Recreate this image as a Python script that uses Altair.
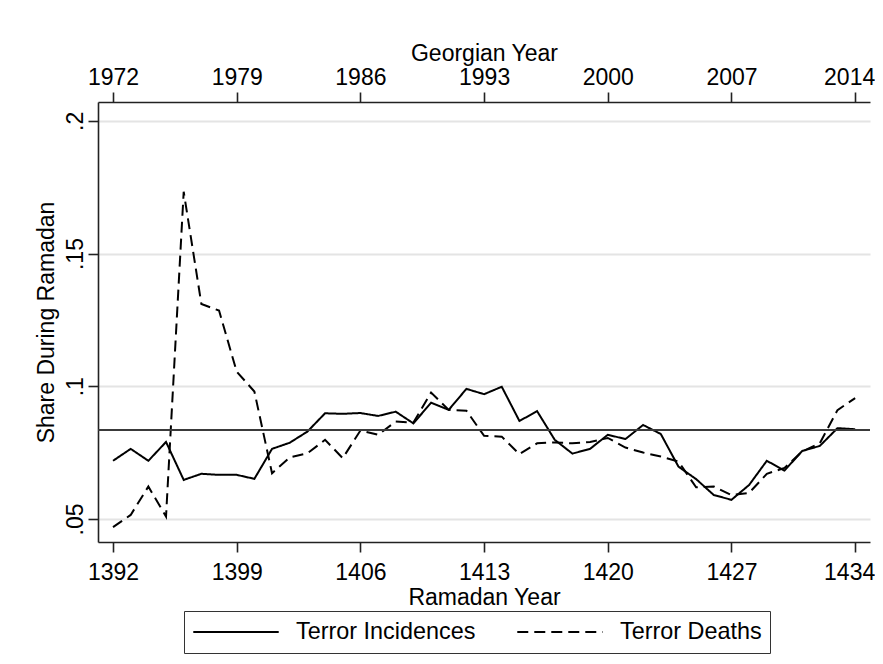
import altair as alt
import pandas as pd

# ---- data ----
years = [1392, 1393, 1394, 1395, 1396, 1397, 1398, 1399, 1400, 1401,
         1402, 1403, 1404, 1405, 1406, 1407, 1408, 1409, 1410, 1411,
         1412, 1413, 1414, 1415, 1416, 1417, 1418, 1419, 1420, 1421,
         1422, 1423, 1424, 1425, 1426, 1427, 1428, 1429, 1430, 1431,
         1432, 1433, 1434]

incidences = [0.0719, 0.0764, 0.0719, 0.0790, 0.0647, 0.0670, 0.0666, 0.0666, 0.0651, 0.0764,
              0.0787, 0.0829, 0.0898, 0.0896, 0.0899, 0.0888, 0.0904, 0.0860, 0.0938, 0.0911,
              0.0990, 0.0970, 0.0998, 0.0869, 0.0906, 0.0798, 0.0746, 0.0764, 0.0817, 0.0801,
              0.0854, 0.0820, 0.0697, 0.0650, 0.0590, 0.0572, 0.0628, 0.0719, 0.0682, 0.0756,
              0.0775, 0.0842, 0.0838]

deaths = [0.0469, 0.0515, 0.0622, 0.0509, 0.1733, 0.1310, 0.1285, 0.1055, 0.0980, 0.0672,
          0.0732, 0.0747, 0.0798, 0.0729, 0.0833, 0.0817, 0.0867, 0.0863, 0.0976, 0.0911,
          0.0908, 0.0813, 0.0810, 0.0744, 0.0785, 0.0788, 0.0785, 0.0790, 0.0805, 0.0769,
          0.0750, 0.0735, 0.0716, 0.0619, 0.0622, 0.0590, 0.0598, 0.0670, 0.0692, 0.0754,
          0.0785, 0.0910, 0.0955]

series_names = ["Terror Incidences", "Terror Deaths"]
ramadan_ticks = [1392, 1399, 1406, 1413, 1420, 1427, 1434]
georgian_labels = ["1972", "1979", "1986", "1993", "2000", "2007", "2014"]
y_ticks = [0.05, 0.10, 0.15, 0.20]
y_tick_labels = [".05", ".1", ".15", ".2"]
mean_share = 0.0835

# ---- tables ----
df = pd.DataFrame({
    "year": years * 2,
    "share": incidences + deaths,
    "series": [series_names[0]] * len(years) + [series_names[1]] * len(years),
})
rule_df = pd.DataFrame({"share": [mean_share]})


def label_expr(values, labels):
    expr = "''"
    for v, l in reversed(list(zip(values, labels))):
        expr = f"abs(datum.value - {v}) < 0.001 ? '{l}' : ({expr})"
    return expr


FONT = "Liberation Sans"
FS = 23

xscale = alt.Scale(domain=[1391.15, 1434.84], nice=False, zero=False)
yscale = alt.Scale(domain=[0.0413, 0.2071], nice=False, zero=False)

# keep the last tick label inside the page
last_label_offset = {"condition": {"test": f"datum.value == {ramadan_ticks[-1]}", "value": -6},
                     "value": 0}

y_axis = alt.Axis(values=y_ticks, labelExpr=label_expr(y_ticks, y_tick_labels),
                  title="Share During Ramadan", grid=True,
                  gridColor="#e4e4e4", gridWidth=2,
                  labelAngle=270, labelAlign="center", labelBaseline="alphabetic",
                  labelPadding=6, titlePadding=6)

lines = alt.Chart(df).mark_line(strokeWidth=2, color="black").encode(
    x=alt.X("year:Q", scale=xscale,
            axis=alt.Axis(orient="bottom", values=ramadan_ticks, format="d",
                          title="Ramadan Year", grid=False,
                          labelOffset=last_label_offset,
                          labelPadding=9, titlePadding=2)),
    y=alt.Y("share:Q", scale=yscale, axis=y_axis),
    strokeDash=alt.StrokeDash(
        "series:N",
        scale=alt.Scale(domain=series_names, range=[[1, 0], [11, 6]]),
        legend=alt.Legend(
            orient="none", legendX=86, legendY=509, direction="horizontal",
            title=None, symbolType="stroke", symbolSize=7300, symbolStrokeWidth=2,
            symbolStrokeColor="black", clipHeight=26,
            labelFont=FONT, labelFontSize=23.4,
            labelColor="black", labelOffset=16, columnPadding=40, padding=8,
            strokeColor="#333333", labelLimit=400,
        ),
    ),
)

rule = alt.Chart(rule_df).mark_rule(color="#3a3a3a", strokeWidth=2).encode(
    y=alt.Y("share:Q", scale=yscale, axis=y_axis)
)

top = alt.Chart(df).mark_point(opacity=0).encode(
    x=alt.X("year:Q", scale=xscale,
            axis=alt.Axis(orient="top", values=ramadan_ticks,
                          labelExpr=label_expr(ramadan_ticks, georgian_labels),
                          labelOffset=last_label_offset,
                          title="Georgian Year", grid=False,
                          labelPadding=3, titlePadding=1)),
)

chart = (
    alt.layer(lines, rule, top)
    .resolve_axis(x="independent")
    .properties(
        width=772, height=440,
        autosize=alt.AutoSizeParams(type="none"),
        padding={"left": 90, "top": 94, "right": 5, "bottom": 114},
        background="white",
    )
    .configure_view(stroke=None)
    .configure_axis(
        labelFont=FONT, titleFont=FONT, labelFontSize=FS, titleFontSize=FS,
        labelColor="black", titleColor="black", titleFontWeight="normal",
        domainColor="#222222", domainWidth=1.6, tickColor="#222222",
        tickWidth=1.6, tickSize=10,
    )
)

chart.save("out.html", embed_options={"renderer": "svg", "actions": False})
